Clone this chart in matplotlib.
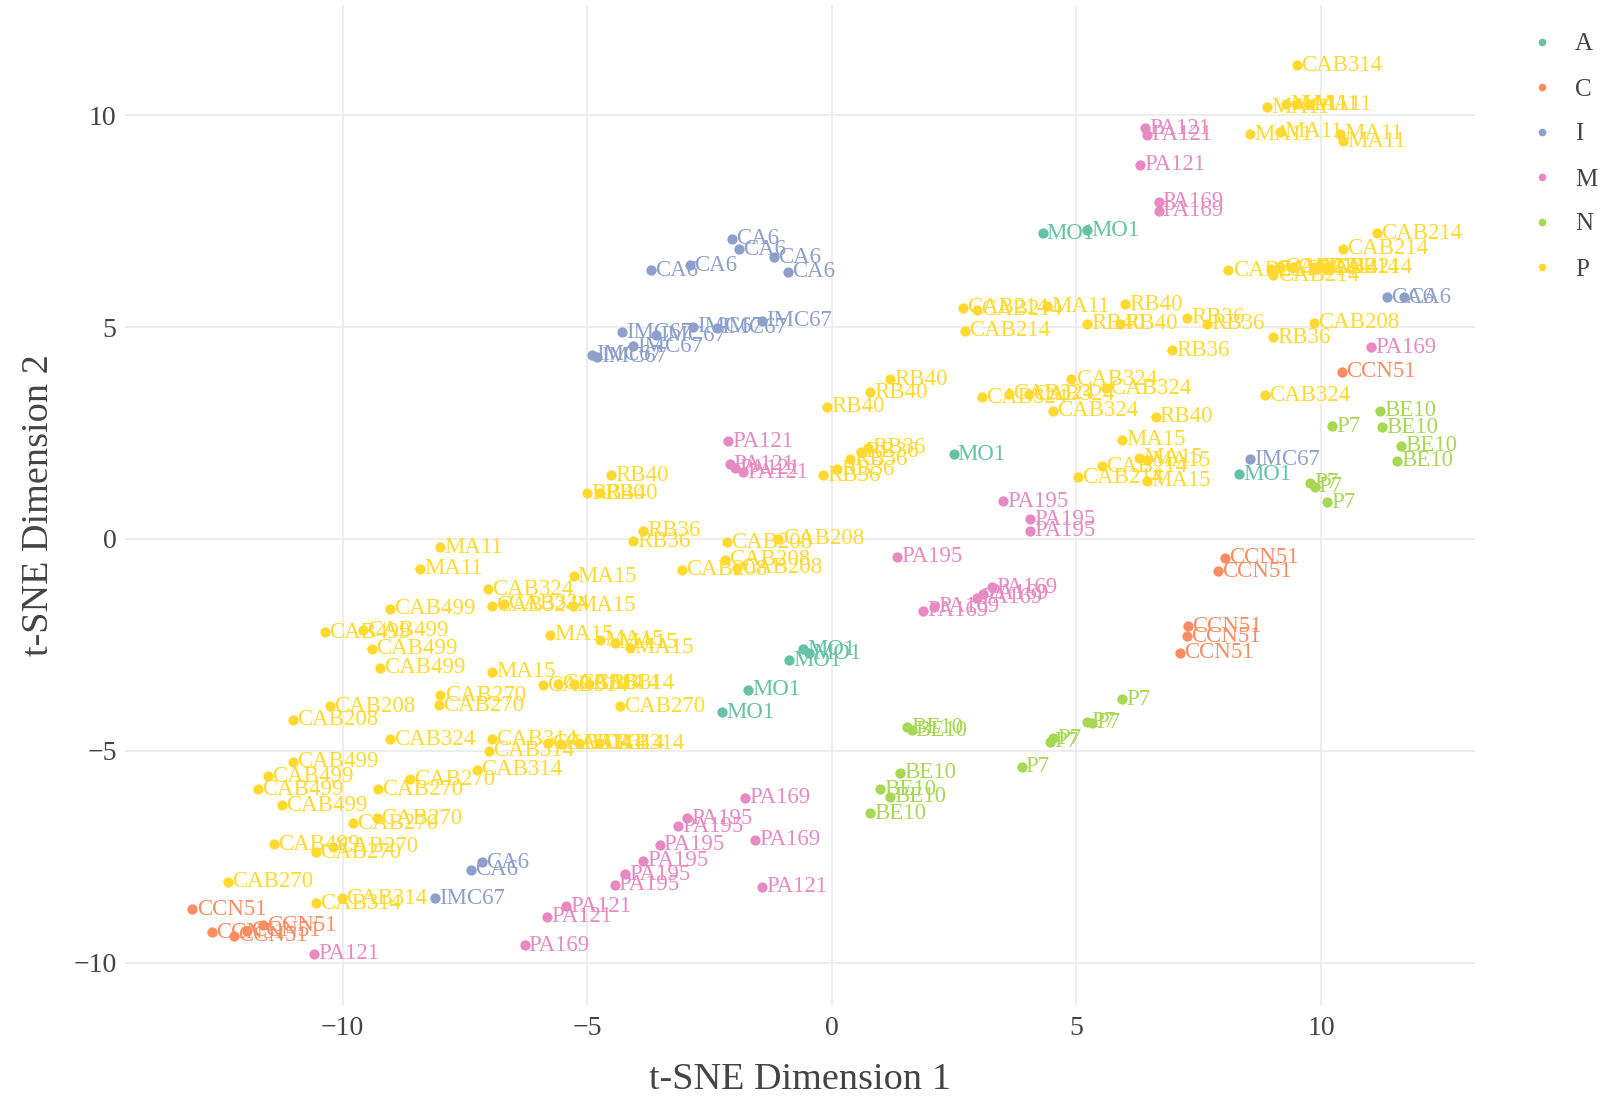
import matplotlib.pyplot as plt
from matplotlib.lines import Line2D

plt.rcParams['font.family'] = ['Liberation Serif', 'DejaVu Serif']

# --- data (t-SNE coordinates) ---
a_x = [4.31, 5.22, 2.49, 8.32, -0.59, -0.46, -0.88, -1.72, -2.24]
a_y = [7.21, 7.28, 2.00, 1.52, -2.60, -2.70, -2.86, -3.56, -4.09]
a_lab = ['MO1'] * 9

c_x = [10.43, 8.04, 7.90, 7.29, 7.27, 7.12, -13.07, -12.67, -12.23, -11.95, -11.63]
c_y = [3.94, -0.44, -0.76, -2.06, -2.30, -2.69, -8.74, -9.28, -9.37, -9.25, -9.12]
c_lab = ['CCN51'] * 11

i_x = [-2.05, -1.89, -3.69, -2.89, -1.19, -0.90, -4.29, -3.60, -2.83, -2.35,
       -1.42, -4.06, -4.90, -4.80, 11.35, 11.69, 8.55, -7.37, -7.16, -8.11]
i_y = [7.08, 6.84, 6.34, 6.46, 6.65, 6.31, 4.88, 4.81, 5.01, 4.98,
       5.15, 4.55, 4.35, 4.30, 5.70, 5.70, 1.88, -7.81, -7.63, -8.48]
i_lab = ['CA6'] * 6 + ['IMC67'] * 8 + ['CA6', 'CA6', 'IMC67', 'CA6', 'CA6', 'IMC67']

m_x = [6.45, 6.41, 6.31, 6.68, 6.68, 11.02, -2.12, -2.09, -1.97, -1.82,
       3.50, 4.06, 4.06, 1.34, 3.27, 2.97, 3.10, 1.86, 2.09, -1.78,
       -1.57, -1.42, -2.95, -3.14, -3.52, -3.85, -4.23, -4.44, -5.43, -5.82,
       -6.28, -10.58]
m_y = [9.54, 9.69, 8.83, 7.96, 7.74, 4.52, 2.30, 1.76, 1.67, 1.57,
       0.89, 0.46, 0.19, -0.42, -1.14, -1.39, -1.29, -1.70, -1.60, -6.11,
       -7.10, -8.21, -6.59, -6.78, -7.22, -7.60, -7.92, -8.16, -8.67, -8.92,
       -9.59, -9.79]
m_lab = (['PA121'] * 3 + ['PA169'] * 3 + ['PA121'] * 4 + ['PA195'] * 4
         + ['PA169'] * 5 + ['PA169', 'PA169', 'PA121'] + ['PA195'] * 6
         + ['PA121', 'PA121', 'PA169', 'PA121'])

n_x = [11.21, 11.25, 11.63, 11.56, 10.22, 9.78, 9.87, 10.12, 5.93, 5.22,
       5.32, 4.52, 4.46, 3.88, 1.53, 1.63, 1.40, 0.98, 1.19, 0.78]
n_y = [3.02, 2.64, 2.20, 1.84, 2.66, 1.33, 1.23, 0.87, -3.78, -4.31,
       -4.34, -4.70, -4.79, -5.38, -4.44, -4.51, -5.52, -5.91, -6.08, -6.47]
n_lab = ['BE10'] * 4 + ['P7'] * 10 + ['BE10'] * 6

p_x = [9.51, 8.90, 9.28, 9.49, 9.76, 8.55, 9.17, 10.39, 10.45, 11.14,
       10.45, 8.11, 8.97, 9.17, 9.43, 9.85, 10.12, 9.03, 9.85, 9.03,
       7.27, 7.67, 6.95, 5.99, 5.22, 5.89, 4.40, 2.68, 2.97, 2.72,
       3.08, 3.62, 4.04, 4.90, 5.61, 4.52, 8.86, 6.62, 5.93, 6.28,
       6.45, 5.53, 5.03, 6.45, 1.19, 0.78, -0.10, 0.75, 0.59, 0.38,
       0.10, -0.17, -4.52, -5.01, -4.73, -3.85, -4.06, -2.14, -1.09, -2.18,
       -1.93, -3.06, -8.00, -8.42, -5.28, -7.02, -6.95, -6.70, -5.30, -9.03,
       -10.37, -9.59, -9.41, -9.24, -5.76, -4.73, -4.44, -4.13, -6.95, -5.91,
       -5.59, -5.28, -4.96, -8.00, -8.04, -4.34, -10.26, -11.02, -9.03, -6.95,
       -7.00, -5.80, -5.53, -5.17, -4.75, -7.25, -11.02, -11.52, -11.73, -11.25,
       -8.63, -9.28, -9.30, -9.78, -11.40, -10.54, -10.20, -12.34, -10.54, -10.01]
p_y = [11.18, 10.19, 10.26, 10.26, 10.26, 9.55, 9.61, 9.56, 9.39, 7.21,
       6.85, 6.34, 6.36, 6.41, 6.41, 6.41, 6.41, 6.22, 5.10, 4.76,
       5.22, 5.08, 4.45, 5.54, 5.08, 5.08, 5.49, 5.46, 5.41, 4.91,
       3.34, 3.43, 3.41, 3.77, 3.55, 3.02, 3.39, 2.88, 2.34, 1.91,
       1.86, 1.71, 1.45, 1.37, 3.77, 3.46, 3.12, 2.15, 2.06, 1.88,
       1.64, 1.50, 1.50, 1.08, 1.08, 0.19, -0.05, -0.08, 0.00, -0.49,
       -0.68, -0.73, -0.20, -0.71, -0.88, -1.19, -1.58, -1.53, -1.58, -1.65,
       -2.20, -2.15, -2.59, -3.04, -2.26, -2.38, -2.45, -2.57, -3.13, -3.45,
       -3.42, -3.42, -3.42, -3.69, -3.93, -3.95, -3.95, -4.27, -4.73, -4.73,
       -5.00, -4.82, -4.84, -4.82, -4.82, -5.45, -5.26, -5.60, -5.91, -6.28,
       -5.67, -5.91, -6.59, -6.71, -7.21, -7.39, -7.27, -8.09, -8.60, -8.48]
p_lab = (['CAB314'] + ['MA11'] * 8 + ['CAB214'] * 9 + ['CAB208'] + ['RB36'] * 4
         + ['RB40'] * 3 + ['MA11'] + ['CAB214'] * 3 + ['CAB324'] * 7 + ['RB40']
         + ['MA15'] * 3 + ['CAB214'] * 2 + ['MA15'] + ['RB40'] * 3 + ['RB36'] * 5
         + ['RB40'] * 3 + ['RB36'] * 2 + ['CAB208'] * 5 + ['MA11'] * 2 + ['MA15']
         + ['CAB324'] * 3 + ['MA15'] + ['CAB499'] * 5 + ['MA15'] * 5
         + ['CAB314'] * 4 + ['CAB270'] * 3 + ['CAB208'] * 2 + ['CAB324']
         + ['CAB314'] * 7 + ['CAB499'] * 4 + ['CAB270'] * 4 + ['CAB499']
         + ['CAB270'] * 3 + ['CAB314'] * 2)

groups = ['A', 'C', 'I', 'M', 'N', 'P']
series = {'A': (a_x, a_y, a_lab), 'C': (c_x, c_y, c_lab), 'I': (i_x, i_y, i_lab),
          'M': (m_x, m_y, m_lab), 'N': (n_x, n_y, n_lab), 'P': (p_x, p_y, p_lab)}
colors = {'A': '#66c2a5', 'C': '#fc8d62', 'I': '#8da0cb',
          'M': '#e78ac3', 'N': '#a6d854', 'P': '#ffd92f'}

W, H = 1606, 1101
fig = plt.figure(figsize=(W / 100, H / 100), dpi=100)
ax = fig.add_axes([125 / W, 1 - 1005 / H, 1350 / W, 1000 / H])

for k, g in enumerate(groups):
    xs, ys, labs = series[g]
    z = 3 + k
    ax.scatter(xs, ys, s=55, color=colors[g], linewidths=0, zorder=z)
    for x, y, t in zip(xs, ys, labs):
        ax.annotate(t, (x, y), xytext=(3, 0), textcoords='offset points',
                    ha='left', va='center', fontsize=16.5, color=colors[g],
                    zorder=z + 0.5)

ax.set_xlim(-14.45, 13.15)
ax.set_ylim(-11.0, 12.6)
ax.set_xticks([-10, -5, 0, 5, 10])
ax.set_yticks([-10, -5, 0, 5, 10])
ax.grid(True, color='#ebebeb', linewidth=1.2)
ax.set_axisbelow(True)
for s in ax.spines.values():
    s.set_visible(False)
ax.tick_params(length=0, labelsize=20, colors='#444444', pad=8)
ax.tick_params(axis='y', pad=6)

ax.set_xlabel('t-SNE Dimension 1', fontsize=27.5, color='#444444', va='center')
ax.xaxis.set_label_coords(0.5, -0.075)
ax.set_ylabel('t-SNE Dimension 2', fontsize=27.5, color='#444444', va='center')
ax.yaxis.set_label_coords(-0.064, 0.5)

handles = [Line2D([], [], linestyle='none', marker='o', markersize=5.5,
                  markerfacecolor=colors[g], markeredgewidth=0) for g in groups]
fig.legend(handles, groups, loc='upper left', bbox_to_anchor=(1529.5 / W, 1 - 33 / H),
           frameon=False, fontsize=18, handlelength=1.0, handletextpad=0.82,
           labelspacing=0.9, borderpad=0, borderaxespad=0, labelcolor='#444444')

fig.savefig('out.png', dpi=100)
